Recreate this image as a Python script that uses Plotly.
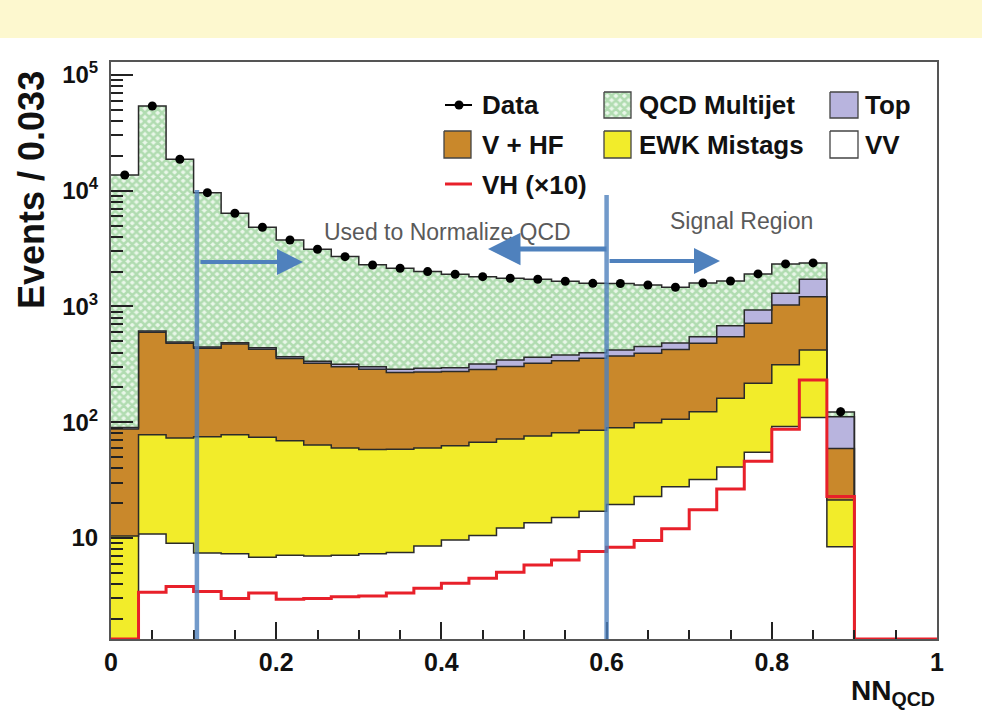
import numpy as np
import plotly.graph_objects as go

# ---------------- data ----------------
N_BINS = 30
X_LO, X_HI = 0.0, 1.0
Y_LOG_MIN, Y_LOG_MAX = 0.127, 5.112

data = [13680, 53950, 18700, 9620, 6380, 4830, 3755, 3120, 2693, 2283, 2138, 2000, 1897, 1808, 1753,
        1718, 1651, 1585, 1580, 1534, 1466, 1596, 1660, 1910, 2330, 2377, 123, 0, 0, 0]
qcd = [13600, 53300, 18200, 9170, 5890, 4390, 3390, 2790, 2380, 1985, 1850, 1710, 1600, 1490, 1410,
       1355, 1270, 1185, 1160, 1085, 980, 1050, 980, 975, 1030, 660, 11, 0, 0, 0]
top = [2.5, 15, 13, 12, 13, 12, 12, 13, 14, 15, 18, 20, 21, 32, 42, 41, 41, 42, 48, 56, 59, 67, 132,
       217, 270, 502, 52, 0, 0, 0]
vhf = [77, 522, 408, 360, 396, 353, 287, 259, 242, 229, 210, 212, 212, 219, 231, 247, 259, 272, 283,
       295, 319, 358, 387, 499, 717, 795, 38, 0, 0, 0]
ewk = [10.4, 67, 64, 67.6, 70.7, 67.2, 61.9, 56.6, 52.9, 50.7, 50.9, 51.5, 52.9, 56.5, 59.3, 62.5, 66,
       68, 70, 76.2, 78.3, 91, 120, 162, 221, 311, 12.9, 0, 0, 0]
vv = [0, 10.8, 9.0, 7.4, 7.3, 6.8, 7.1, 7.0, 7.1, 7.3, 7.5, 8.5, 9.6, 10.5, 12.2, 13.5, 15, 17, 19.5,
      22.8, 27.7, 32, 41, 55, 92, 110, 8.4, 0, 0, 0]
vh = [0, 0.34, 0.38, 0.345, 0.30, 0.335, 0.295, 0.30, 0.31, 0.315, 0.335, 0.367, 0.406, 0.449, 0.505,
      0.585, 0.646, 0.762, 0.83, 0.95, 1.2, 1.75, 2.65, 4.6, 8.7, 23.2, 2.28, 0, 0, 0]
VH_SCALE = 10

x_tick_vals = [0, 0.2, 0.4, 0.6, 0.8, 1]
x_tick_text = ["0", "0.2", "0.4", "0.6", "0.8", "1"]
y_tick_vals = [10, 100, 1000, 10000, 100000]
y_tick_text = ["10", "10<sup>2</sup>", "10<sup>3</sup>", "10<sup>4</sup>", "10<sup>5</sup>"]

legend_labels = ["Data", "QCD Multijet", "Top", "V + HF", "EWK Mistags", "VV", "VH (\u00d710)"]
region_labels = ["Used to Normalize QCD", "Signal Region"]
cut_positions = [0.104, 0.6]

# ---------------- styling ----------------
W, H = 982, 725
ML, MR, MT, MB = 111, 45, 62, 86
PW, PH = W - ML - MR, H - MT - MB
FONT = "Liberation Sans"
C_VV, C_EWK, C_VHF, C_TOP = "#ffffff", "#f2ec2a", "#c9882b", "#b8b4de"
C_QCD_FG, C_QCD_BG = "#78c278", "#eaf7ea"
QCD_PATTERN = dict(shape="x", fgcolor=C_QCD_FG, bgcolor=C_QCD_BG, size=6, solidity=0.66)
C_VH = "#e8202a"
C_OUT = "#2a2a2a"
C_BLUE = "rgba(79,129,189,0.8)"
C_BLUE_ARROW = "rgb(79,129,189)"


def U(px):
    return (px - ML) / PW


def V(py):
    return (MT + PH - py) / PH


edges = np.linspace(X_LO, X_HI, N_BINS + 1)
centers = 0.5 * (edges[:-1] + edges[1:])
floor = 10 ** Y_LOG_MIN


def step_y(vals):
    v = np.maximum(np.asarray(vals, float), floor)
    return np.append(v, v[-1])


fig = go.Figure()

# baseline for the stack
fig.add_trace(go.Scatter(x=edges, y=step_y(np.zeros(N_BINS)), mode="lines",
                         line=dict(width=0, shape="hv"), hoverinfo="skip", showlegend=False))

layers = [("VV", vv, C_VV, None), ("EWK Mistags", ewk, C_EWK, None), ("V + HF", vhf, C_VHF, None),
          ("Top", top, C_TOP, None), ("QCD Multijet", qcd, C_QCD_BG, QCD_PATTERN)]
cum = np.zeros(N_BINS)
for name, vals, col, patt in layers:
    cum = cum + np.asarray(vals, float)
    kw = dict(fillpattern=patt) if patt else {}
    fig.add_trace(go.Scatter(x=edges, y=step_y(cum), mode="lines", name=name,
                             line=dict(shape="hv", color=C_OUT, width=1.5),
                             fill="tonexty", fillcolor=col, showlegend=False, **kw))

# VH x10
fig.add_trace(go.Scatter(x=edges, y=step_y(np.asarray(vh) * VH_SCALE), mode="lines",
                         line=dict(shape="hv", color=C_VH, width=3), showlegend=False))

# data
d = np.asarray(data, float)
mask = d > 0
fig.add_trace(go.Scatter(x=centers[mask], y=d[mask], mode="markers",
                         marker=dict(color="black", size=9, symbol="circle"),
                         error_y=dict(type="data", array=np.sqrt(d[mask]), color="black",
                                      thickness=1.5, width=0),
                         showlegend=False))

# ---------------- legend (drawn on overlay axes) ----------------
def box(x0, x1, y0, y1, col, patt=None):
    kw = dict(fillpattern=patt) if patt else {}
    return go.Scatter(x=[U(x0), U(x1), U(x1), U(x0), U(x0)],
                      y=[V(y0), V(y0), V(y1), V(y1), V(y0)],
                      mode="lines", fill="toself", fillcolor=col,
                      line=dict(color="#444", width=1.3), xaxis="x2", yaxis="y2",
                      hoverinfo="skip", showlegend=False, **kw)


fig.add_trace(box(604, 631, 92, 118, C_QCD_BG, QCD_PATTERN))
fig.add_trace(box(830, 858, 92, 118, C_TOP))
fig.add_trace(box(444, 471, 131, 158, C_VHF))
fig.add_trace(box(604, 631, 131, 158, C_EWK))
fig.add_trace(box(830, 858, 131, 158, C_VV))
fig.add_trace(go.Scatter(x=[U(445), U(472)], y=[V(105), V(105)], mode="lines",
                         line=dict(color="black", width=2), xaxis="x2", yaxis="y2",
                         showlegend=False, hoverinfo="skip"))
fig.add_trace(go.Scatter(x=[U(459)], y=[V(105)], mode="markers",
                         marker=dict(color="black", size=9), xaxis="x2", yaxis="y2",
                         showlegend=False, hoverinfo="skip"))
fig.add_trace(go.Scatter(x=[U(445), U(472)], y=[V(184), V(184)], mode="lines",
                         line=dict(color=C_VH, width=3), xaxis="x2", yaxis="y2",
                         showlegend=False, hoverinfo="skip"))

annotations = []
leg_pos = [(480, 105), (637, 105), (863, 105), (480, 145), (637, 145), (863, 145), (480, 185)]
for lab, (px, py) in zip(legend_labels, leg_pos):
    annotations.append(dict(x=U(px), y=V(py), xref="x2", yref="y2", text=lab, showarrow=False,
                            xanchor="left", yanchor="middle",
                            font=dict(family=FONT, size=26, color="#111", weight="bold")))

# region texts
annotations.append(dict(x=U(447), y=V(232), xref="x2", yref="y2", text=region_labels[0],
                        showarrow=False, xanchor="center", yanchor="middle",
                        font=dict(family=FONT, size=23, color="#5a5a5a")))
annotations.append(dict(x=U(741), y=V(221), xref="x2", yref="y2", text=region_labels[1],
                        showarrow=False, xanchor="center", yanchor="middle",
                        font=dict(family=FONT, size=23, color="#5a5a5a")))

# arrows
for (hx, hy, tx, ty, w) in [(303, 262, 199, 262, 4), (488, 249, 608, 249, 5), (720, 261, 608, 261, 4)]:
    annotations.append(dict(x=U(hx), y=V(hy), ax=U(tx), ay=V(ty), xref="x2", yref="y2",
                            axref="x2", ayref="y2", text="", showarrow=True, arrowhead=2,
                            arrowsize=1.3, arrowwidth=w, arrowcolor=C_BLUE_ARROW))

# axis titles
annotations.append(dict(x=U(31), y=V(190), xref="paper", yref="paper", text="Events / 0.033",
                        showarrow=False, textangle=-90, xanchor="center", yanchor="middle",
                        font=dict(family=FONT, size=36, color="#111", weight="bold")))
annotations.append(dict(x=1.0, y=V(692), xref="paper", yref="paper", text="NN<sub>QCD</sub>",
                        showarrow=False, xanchor="right", yanchor="middle",
                        font=dict(family=FONT, size=28, color="#111", weight="bold")))

shapes = [
    dict(type="rect", xref="paper", yref="paper", x0=U(0), x1=U(W), y0=V(38), y1=V(0),
         fillcolor="#fdf8cf", line=dict(width=0), layer="below"),
    dict(type="line", xref="x", yref="y2", x0=cut_positions[0], x1=cut_positions[0], y0=0, y1=V(190),
         line=dict(color=C_BLUE, width=4.5), layer="above"),
    dict(type="line", xref="x", yref="y2", x0=cut_positions[1], x1=cut_positions[1], y0=0, y1=V(195),
         line=dict(color=C_BLUE, width=4.5), layer="above"),
]

y_minor = [m * 10 ** k for k in range(0, 5) for m in range(2, 10) if Y_LOG_MIN < np.log10(m * 10 ** k) < Y_LOG_MAX]
x_minor = [round(0.05 * k, 2) for k in range(1, 20) if k % 4 != 0]

fig.update_layout(
    width=W, height=H, margin=dict(l=ML, r=MR, t=MT, b=MB),
    paper_bgcolor="white", plot_bgcolor="white", showlegend=False,
    annotations=annotations, shapes=shapes,
    xaxis=dict(range=[X_LO, X_HI], tickvals=x_tick_vals, ticktext=x_tick_text, ticks="inside",
               ticklen=17, tickwidth=1.5, tickcolor="#222", showgrid=False, zeroline=False,
               showline=True, linecolor="#555", linewidth=2, mirror=True,
               minor=dict(tickvals=x_minor, ticks="inside", ticklen=9, tickcolor="#222", tickwidth=1.5),
               tickfont=dict(family=FONT, size=25, color="#111", weight="bold")),
    yaxis=dict(type="log", range=[Y_LOG_MIN, Y_LOG_MAX], tickvals=y_tick_vals, ticktext=y_tick_text,
               ticks="inside", ticklen=22, tickwidth=1.5, tickcolor="#222", showgrid=False,
               zeroline=False, showline=True, linecolor="#555", linewidth=2, mirror=True,
               minor=dict(tickvals=y_minor, ticks="inside", ticklen=12, tickcolor="#222", tickwidth=1.5),
               ticklabelstandoff=6,
               tickfont=dict(family=FONT, size=24, color="#111", weight="bold")),
    xaxis2=dict(overlaying="x", range=[0, 1], visible=False, anchor="y2", fixedrange=True),
    yaxis2=dict(overlaying="y", range=[0, 1], visible=False, anchor="x2", fixedrange=True),
)

fig.write_html("out.html")
